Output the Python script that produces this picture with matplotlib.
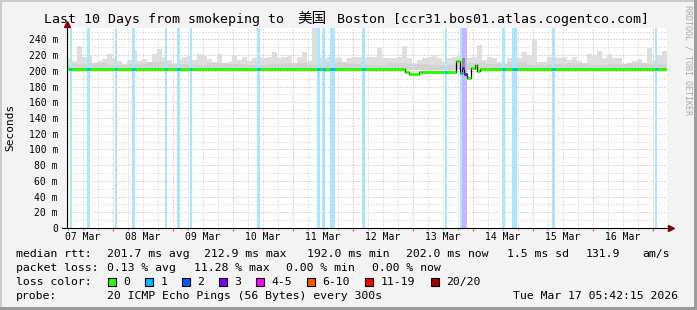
import numpy as np
from datetime import datetime
import matplotlib
matplotlib.use('Agg')
import matplotlib.pyplot as plt
from matplotlib.patches import Rectangle

# 画布尺寸 (像素)
W, H = 697, 310
MONO = 'DejaVu Sans Mono'
CJK = ['Noto Sans CJK SC', 'DejaVu Sans Mono']

# 时间范围: 10 天, 结束于 Mar 17 05:42:15
T_START = datetime(2026, 3, 7, 5, 42, 15)
SPAN_HOURS = 240

# smoke 上沿 (每 2 小时一格, 单位 ms)
smoke_top = [216, 213, 232, 218, 220, 210, 212, 215, 221, 216,
             212, 209, 214, 226, 212, 215, 210, 222, 228, 218,
             214, 209, 215, 217, 219, 214, 221, 219, 215, 211,
             222, 209, 211, 220, 214, 218, 213, 216, 218, 216,
             218, 224, 216, 218, 220, 209, 218, 224, 213, 254,
             218, 216, 217, 216, 218, 209, 216, 218, 217, 216,
             218, 218, 229, 216, 216, 216, 218, 231, 216, 210,
             214, 216, 218, 220, 216, 211, 216, 218, 220, 221,
             216, 218, 233, 214, 218, 216, 211, 209, 216, 218,
             216, 224, 220, 241, 211, 211, 218, 218, 216, 218,
             214, 218, 212, 208, 222, 220, 225, 216, 222, 216,
             216, 208, 205, 212, 215, 208, 229, 212, 220, 225]
# smoke 深色部分上沿 (每 8 小时一格)
smoke_mid = [209, 210, 208, 209, 211, 209, 208, 210, 209, 208,
             209, 210, 208, 211, 209, 208, 210, 209, 207, 208,
             210, 209, 211, 208, 209, 210, 208, 209, 210, 209]
SMOKE_BASE = 201

# 中位数 rtt (阶梯: 起始小时, 数值)
median_hours = [0, 135.3, 136.7, 140.7, 142.0, 155.7, 157.0, 158.0,
                158.7, 160.0, 161.7, 163.3, 164.0, 165.3]
median_vals = [202, 199, 196, 198, 199, 212, 197, 203,
               195.5, 191.5, 204, 207, 200, 202]

# 丢包时段 (起止小时, 丢包数)
loss_start = [1.2, 8.0, 19.1, 26.0, 39.1, 44.0, 49.1, 76.0, 100.0, 102.0,
              105.3, 118.0, 151.1, 157.2, 158.0, 174.0, 178.0, 194.0, 235.3]
loss_end = [2.0, 9.2, 20.0, 27.1, 40.1, 45.1, 50.0, 77.3, 101.2, 103.1,
            107.1, 119.3, 152.0, 158.0, 160.0, 175.3, 180.0, 195.1, 236.1]
loss_level = [1, 1, 1, 1, 1, 1, 1, 1, 1, 1,
              1, 1, 1, 1, 3, 1, 1, 1, 1]

# 丢包高峰时的深色 smoke
dark_smoke = (158.0, 159.2, 201, 216)

# 刻度
ytick_vals = [0, 20, 40, 60, 80, 100, 120, 140, 160, 180, 200, 220, 240]
ytick_labels = ['0', '20 m', '40 m', '60 m', '80 m', '100 m', '120 m',
                '140 m', '160 m', '180 m', '200 m', '220 m', '240 m']
xtick_days = [7, 8, 9, 10, 11, 12, 13, 14, 15, 16]
xtick_labels = ['07 Mar', '08 Mar', '09 Mar', '10 Mar', '11 Mar',
                '12 Mar', '13 Mar', '14 Mar', '15 Mar', '16 Mar']

# 图例
loss_names = ['0', '1', '2', '3', '4-5', '6-10', '11-19', '20/20']
loss_colors = ['#26ff00', '#00b8ff', '#0059ff', '#7e00ff',
               '#ff00ff', '#ff5500', '#ff0000', '#a10000']
loss_tints = {1: '#abe6ff', 3: '#c6b6ff'}

title_left = 'Last 10 Days from smokeping to'
title_cjk = '美国'
title_right = 'Boston [ccr31.bos01.atlas.cogentco.com]'
stats_rtt = [('median rtt:', 16), ('201.7 ms avg', 107), ('212.9 ms max', 203.5),
             ('192.0 ms min', 307.3), ('202.0 ms now', 406.5), ('1.5 ms sd', 507),
             ('131.9', 586), ('am/s', 642)]
stats_loss = [('packet loss:', 16), ('0.13 % avg', 107), ('11.28 % max', 194),
              ('0.00 % min', 286.5), ('0.00 % now', 372.5)]
probe_text = '20 ICMP Echo Pings (56 Bytes) every 300s'
date_text = 'Tue Mar 17 05:42:15 2026'


def fx(px):
    return px / W


def fy(py):
    return 1 - py / H


def hours(dt):
    return (dt - T_START).total_seconds() / 3600


fig = plt.figure(figsize=(W / 100, H / 100), dpi=100, facecolor='#f3f3f3')

# 边框阴影
fig.add_artist(Rectangle((0, fy(2)), 1, 2 / H, transform=fig.transFigure,
                         color='#cbcbcb', lw=0))
fig.add_artist(Rectangle((0, 0), 2 / W, 1, transform=fig.transFigure,
                         color='#cbcbcb', lw=0))
fig.add_artist(Rectangle((0, 0), 1, 3 / H, transform=fig.transFigure,
                         color='#9c9c9c', lw=0))
fig.add_artist(Rectangle((1 - 3 / W, 0), 3 / W, 1, transform=fig.transFigure,
                         color='#9c9c9c', lw=0))

ax = fig.add_axes([fx(67), fy(228), 600 / W, 200 / H])
ax.set_facecolor('white')
ax.set_xlim(0, SPAN_HOURS)
ax.set_ylim(0, 254.5)
for s in ax.spines.values():
    s.set_visible(False)

# 网格
midnights = [hours(datetime(2026, 3, d)) for d in range(8, 18)]
six_hours = [hours(datetime(2026, 3, 7, 6)) + 6 * k for k in range(40)]
minor_x = [h for h in six_hours if 0 < h < SPAN_HOURS and
           min(abs(h - m) for m in midnights) > 0.1]
dots = (0, (1, 2))
for h in minor_x:
    ax.axvline(h, color='#cccccc', lw=0.72, ls=dots, zorder=0.5)
for y in range(10, 255, 20):
    ax.axhline(y, color='#cccccc', lw=0.72, ls=dots, zorder=0.5)
for h in midnights:
    ax.axvline(h, color='#e3a0a0', lw=0.72, ls=dots, zorder=0.6)
for y in ytick_vals[1:]:
    ax.axhline(y, color='#e3a0a0', lw=0.72, ls=dots, zorder=0.6)

# smoke
smoke_x = np.arange(len(smoke_top)) * 2
ax.bar(smoke_x, np.array(smoke_top) - SMOKE_BASE, bottom=SMOKE_BASE, width=2,
       align='edge', color='#dedede', lw=0, zorder=1)
mid_x = np.arange(len(smoke_mid)) * 8
ax.bar(mid_x, np.array(smoke_mid) - SMOKE_BASE, bottom=SMOKE_BASE, width=8,
       align='edge', color='#d3d3d3', lw=0, zorder=1.1)

# 丢包竖条
for a, b, lv in zip(loss_start, loss_end, loss_level):
    ax.axvspan(a, b, color=loss_tints[lv], lw=0, zorder=2)

ds = dark_smoke
ax.bar(ds[0], ds[3] - ds[2], bottom=ds[2], width=ds[1] - ds[0], align='edge',
       color='#8c8c8c', lw=0, zorder=2.5)

# 中位数线: 黑色阶梯 + 按丢包着色的横段
med_edges = median_hours + [SPAN_HOURS]
step_x = np.repeat(med_edges, 2)[1:-1]
step_y = np.repeat(median_vals, 2)
ax.plot(step_x, step_y, color='black', lw=0.9, zorder=3)
for i, v in enumerate(median_vals):
    h0, h1 = med_edges[i], med_edges[i + 1]
    ax.hlines(v, h0, h1, color=loss_colors[0], lw=2.1, capstyle='butt', zorder=4)
    for a, b, lv in zip(loss_start, loss_end, loss_level):
        lo, hi = max(a, h0), min(b, h1)
        if hi > lo:
            ax.hlines(v, lo, hi, color=loss_colors[lv], lw=2.1,
                      capstyle='butt', zorder=4.5)

# 坐标轴线和箭头
ax.plot([-5 / 600, 601 / 600], [0, 0], color='black', lw=0.8,
        transform=ax.transAxes, clip_on=False, zorder=6)
ax.plot([0, 0], [0, 203 / 200], color='black', lw=0.8,
        transform=ax.transAxes, clip_on=False, zorder=6)
ax.plot([0], [204 / 200], marker='^', ms=4.5, color='#8b0000',
        transform=ax.transAxes, clip_on=False, zorder=7)
ax.plot([603.5 / 600], [0], marker='>', ms=4.5, color='#8b0000',
        transform=ax.transAxes, clip_on=False, zorder=7)
ax.vlines(midnights, -3 / 200, 0, transform=ax.get_xaxis_transform(),
          colors='#d05050', lw=0.8, clip_on=False)
ax.vlines(minor_x, -2 / 200, 0, transform=ax.get_xaxis_transform(),
          colors='#a0a0a0', lw=0.8, clip_on=False)

# 刻度标签
ax.set_yticks(ytick_vals, ytick_labels, fontsize=7, family=MONO)
noons = [hours(datetime(2026, 3, d, 12)) for d in xtick_days]
ax.set_xticks(noons, xtick_labels, fontsize=7, family=MONO)
ax.tick_params(axis='y', length=0, pad=6.5)
ax.tick_params(axis='x', length=0, pad=3)

# 标题 (分三段放置, 中文部分用 CJK 字体)
fig.text(fx(44), fy(19), title_left, ha='left', va='center', fontsize=9.5, family=MONO)
fig.text(fx(311.5), fy(19), title_cjk, ha='center', va='center', fontsize=10.5, family=CJK)
fig.text(fx(649), fy(19), title_right, ha='right', va='center', fontsize=9.5, family=MONO)

fig.text(fx(10), fy(127), 'Seconds', rotation=90, ha='center', va='center',
         fontsize=8, family=MONO)
fig.text(fx(688), fy(60), 'RRDTOOL / TOBI OETIKER', rotation=270, ha='center',
         va='center', fontsize=6, family=MONO, color='#a8a8a8')

LEG_FS = 8.25
for txt, x in stats_rtt:
    fig.text(fx(x), fy(254), txt, ha='left', va='center', fontsize=LEG_FS, family=MONO)
for txt, x in stats_loss:
    fig.text(fx(x), fy(268), txt, ha='left', va='center', fontsize=LEG_FS, family=MONO)

fig.text(fx(16), fy(282), 'loss color:', ha='left', va='center', fontsize=LEG_FS, family=MONO)
square_x = [108, 145, 182, 219, 256, 307, 365, 431]
for name, col, x in zip(loss_names, loss_colors, square_x):
    fig.add_artist(Rectangle((fx(x), fy(286)), 8 / W, 8 / H, transform=fig.transFigure,
                             facecolor=col, edgecolor='black', lw=0.8))
    fig.text(fx(x + 15.5), fy(282), name, ha='left', va='center',
             fontsize=LEG_FS, family=MONO)

fig.text(fx(16), fy(296), 'probe:', ha='left', va='center', fontsize=LEG_FS, family=MONO)
fig.text(fx(107), fy(296), probe_text, ha='left', va='center', fontsize=LEG_FS, family=MONO)
fig.text(fx(513), fy(296), date_text, ha='left', va='center', fontsize=LEG_FS, family=MONO)

fig.savefig('out.png', dpi=100, facecolor=fig.get_facecolor())
